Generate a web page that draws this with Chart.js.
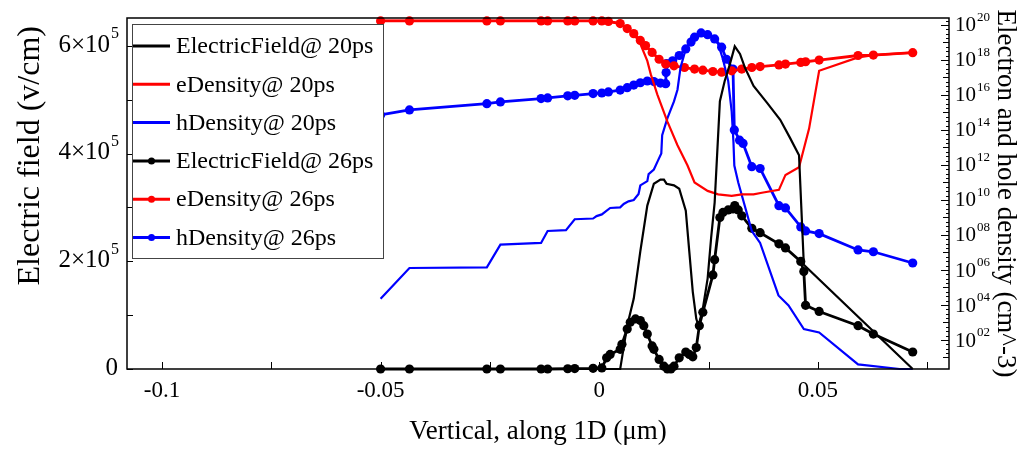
<!DOCTYPE html>
<html>
<head>
<meta charset="utf-8">
<title>Electric field and carrier density</title>
<script src="https://cdn.jsdelivr.net/npm/chart.js@4.4.1/dist/chart.umd.min.js"></script>
<style>
  html, body { margin: 0; padding: 0; background: #fff; }
  canvas { display: block; }
</style>
</head>
<body>
<canvas id="chart" width="1027" height="453"></canvas>
<script>
const SERIF = '"Liberation Serif", "Times New Roman", serif';

// Electric field (v/cm) at 20 ps and 26 ps
const ef20X = [-0.05, 0.0048, 0.0064, 0.0079, 0.0094, 0.0110, 0.0125, 0.0140, 0.0148, 0.0154, 0.0171, 0.0183, 0.0198, 0.0206, 0.0214, 0.0222, 0.0227, 0.0237, 0.0248, 0.0256, 0.0264, 0.0276, 0.0287, 0.0299, 0.0310, 0.0322, 0.0333, 0.0353, 0.0384, 0.0414, 0.0437, 0.0457, 0.0468, 0.0717];
const ef20 = [0, 0, 80500, 130900, 218600, 303500, 344200, 351900, 351900, 344200, 341100, 334800, 294100, 218600, 143300, 93100, 80500, 111900, 168400, 243900, 309100, 497400, 535100, 566500, 599300, 585300, 560200, 525800, 494400, 463000, 428400, 397000, 193500, 0];

const ef26X = [-0.0500, -0.0434, -0.0257, -0.0226, -0.0133, -0.0118, -0.0072, -0.0056, -0.0014, 0.0006, 0.0017, 0.0025, 0.0048, 0.0052, 0.0064, 0.0071, 0.0083, 0.0094, 0.0102, 0.0110, 0.0121, 0.0125, 0.0137, 0.0148, 0.0156, 0.0164, 0.0171, 0.0183, 0.0198, 0.0206, 0.0214, 0.0222, 0.0229, 0.0237, 0.0260, 0.0264, 0.0276, 0.0283, 0.0295, 0.0306, 0.0310, 0.0318, 0.0326, 0.0349, 0.0368, 0.0411, 0.0426, 0.0461, 0.0468, 0.0472, 0.0503, 0.0592, 0.0627, 0.0717];
const ef26 = [0, 0, 0, 0, 0, 0, 500, 800, 1200, 2000, 20800, 27100, 36600, 45900, 74100, 86800, 93100, 90000, 80500, 64900, 42800, 36600, 17700, 5200, 0, 200, 5200, 20800, 31600, 27100, 22700, 39800, 80500, 105600, 174700, 203000, 281400, 290900, 295400, 297200, 303500, 295400, 284600, 261300, 253200, 232500, 224900, 199800, 181000, 118200, 106900, 80500, 64900, 31600];

// electron density (cm^-3)
const eDen20X = [-0.0500, -0.0434, -0.0257, -0.0226, -0.0133, -0.0118, -0.0072, -0.0056, -0.0014, 0.0006, 0.0021, 0.0048, 0.0064, 0.0079, 0.0094, 0.0110, 0.0118, 0.0133, 0.0156, 0.0179, 0.0202, 0.0218, 0.0248, 0.0272, 0.0303, 0.0326, 0.0353, 0.0372, 0.0411, 0.0426, 0.0457, 0.0464, 0.0480, 0.0503, 0.0592, 0.0627, 0.0717];
const eDen20 = [1.7e20, 1.7e20, 1.7e20, 1.7e20, 1.7e20, 1.7e20, 1.7e20, 1.7e20, 1.7e20, 1.7e20, 1.6e20, 1.2e20, 6.2e19, 3.2e19, 8.3e18, 8.9e17, 1.5e17, 1.05e16, 3.0e14, 1.35e13, 9.3e11, 1.0e11, 3.3e10, 2.1e10, 1.7e10, 2.1e10, 2.1e10, 2.6e10, 3.8e10, 2.7e11, 7.4e11, 3.5e12, 1.2e14, 2.4e17, 1.4e18, 1.9e18, 2.6e18];

const eDen26X = [-0.0500, -0.0434, -0.0257, -0.0226, -0.0133, -0.0118, -0.0072, -0.0056, -0.0014, 0.0006, 0.0021, 0.0048, 0.0064, 0.0079, 0.0094, 0.0106, 0.0121, 0.0137, 0.0152, 0.0171, 0.0195, 0.0218, 0.0237, 0.0260, 0.0280, 0.0303, 0.0326, 0.0349, 0.0368, 0.0411, 0.0426, 0.0461, 0.0472, 0.0503, 0.0592, 0.0627, 0.0717];
const eDen26 = [1.7e20, 1.7e20, 1.7e20, 1.7e20, 1.7e20, 1.7e20, 1.7e20, 1.7e20, 1.7e20, 1.7e20, 1.6e20, 1.2e20, 6.2e19, 3.2e19, 1.3e19, 6.6e18, 2.7e18, 1.1e18, 5.8e17, 4.6e17, 3.7e17, 3.0e17, 2.6e17, 2.2e17, 2.0e17, 2.4e17, 3.0e17, 3.7e17, 4.2e17, 5.2e17, 5.8e17, 7.2e17, 7.9e17, 9.8e17, 1.8e18, 1.9e18, 2.6e18];

// hole density (cm^-3)
const hDen20X = [-0.0500, -0.0434, -0.0257, -0.0226, -0.0133, -0.0118, -0.0076, -0.0056, -0.0014, -0.0006, 0.0006, 0.0025, 0.0048, 0.0056, 0.0067, 0.0079, 0.0090, 0.0094, 0.0110, 0.0113, 0.0125, 0.0133, 0.0142, 0.0144, 0.0156, 0.0171, 0.0179, 0.0186, 0.0198, 0.0214, 0.0233, 0.0256, 0.0272, 0.0283, 0.0295, 0.0303, 0.0307, 0.0309, 0.0318, 0.0349, 0.0368, 0.0410, 0.0433, 0.0468, 0.0503, 0.0592, 0.0687, 0.0717];
const hDen20 = [2.3e4, 1.3e6, 1.4e6, 2.8e7, 3.5e7, 1.7e8, 1.9e8, 7.9e8, 8.7e8, 1.2e9, 1.5e9, 3.5e9, 3.8e9, 5.9e9, 8.3e9, 1.0e10, 2.2e10, 6.8e10, 1.2e11, 3.0e11, 5.5e11, 1.5e12, 4.6e12, 5.1e13, 4.7e14, 4.3e15, 2.0e16, 3.7e17, 4.3e18, 2.0e19, 3.9e19, 2.5e19, 8.3e18, 1.1e18, 6.3e16, 1.1e15, 2.1e13, 9.3e11, 1.0e11, 1.7e8, 3.5e7, 3.5e4, 9.5e3, 4.2e2, 2.7e2, 4, 2.2, 2.2];

const hDen26X = [-0.0500, -0.0434, -0.0257, -0.0226, -0.0133, -0.0118, -0.0072, -0.0056, -0.0014, 0.0006, 0.0021, 0.0048, 0.0064, 0.0079, 0.0094, 0.0110, 0.0125, 0.0140, 0.0152, 0.0153, 0.0154, 0.0168, 0.0183, 0.0198, 0.0210, 0.0218, 0.0233, 0.0248, 0.0264, 0.0280, 0.0291, 0.0306, 0.0309, 0.0321, 0.0329, 0.0349, 0.0368, 0.0411, 0.0426, 0.0461, 0.0472, 0.0503, 0.0592, 0.0627, 0.0717];
const hDen26 = [7.2e14, 1.4e15, 3.2e15, 4.0e15, 6.2e15, 6.8e15, 8.9e15, 9.5e15, 1.2e16, 1.3e16, 1.5e16, 1.9e16, 2.6e16, 3.7e16, 5.0e16, 6.3e16, 5.8e16, 4.8e16, 4.4e16, 1.9e17, 6.3e17, 8.9e17, 1.8e18, 4.3e18, 1.05e19, 2.0e19, 3.5e19, 2.8e19, 1.6e19, 5.4e18, 1.1e18, 3.0e17, 1.0e14, 2.6e13, 1.7e13, 8.0e11, 6.3e11, 4.7e9, 3.5e9, 2.9e8, 1.7e8, 1.2e8, 1.4e7, 1.1e7, 2.5e6];

// axes
const xTicks = [-0.1, -0.075, -0.05, -0.025, 0, 0.025, 0.05, 0.075];
const xTickLabels = ['-0.1', '', '-0.05', '', '0', '', '0.05', ''];
const efTicks = [0, 1e5, 2e5, 3e5, 4e5, 5e5, 6e5];
const efTickBase = ['0', '', '2×10', '', '4×10', '', '6×10'];
const efTickExp = ['', '', '5', '', '5', '', '5'];
const denTicks = [1e1, 1e2, 1e3, 1e4, 1e5, 1e6, 1e7, 1e8, 1e9, 1e10, 1e11, 1e12, 1e13, 1e14, 1e15, 1e16, 1e17, 1e18, 1e19, 1e20];
const denTickBase = ['', '10', '', '10', '', '10', '', '10', '', '10', '', '10', '', '10', '', '10', '', '10', '', '10'];
const denTickExp = ['', '02', '', '04', '', '06', '', '08', '', '10', '', '12', '', '14', '', '16', '', '18', '', '20'];
const denMinorSteps = [1.78, 3.16, 5.62];

function pairs(xs, ys) {
  return xs.map((x, i) => ({ x: x, y: ys[i] }));
}

function series(label, xs, ys, color, axis, marked) {
  return {
    label: label,
    data: pairs(xs, ys),
    yAxisID: axis,
    borderColor: color,
    backgroundColor: color,
    borderWidth: marked ? 2.8 : 2.2,
    pointRadius: marked ? 4.6 : 0,
    pointHoverRadius: 0,
    pointBorderWidth: 0,
    tension: 0,
    clip: 6,
    marked: marked
  };
}

// label with a raised exponent, right or left aligned at x
function powerLabel(ctx, base, exp, x, y, align, baseSize, expSize, rise) {
  ctx.font = baseSize + 'px ' + SERIF;
  const bw = ctx.measureText(base).width;
  ctx.font = expSize + 'px ' + SERIF;
  const ew = ctx.measureText(exp).width;
  const x0 = align === 'right' ? x - bw - ew : x;
  ctx.textAlign = 'left';
  ctx.font = baseSize + 'px ' + SERIF;
  ctx.fillText(base, x0, y);
  ctx.font = expSize + 'px ' + SERIF;
  ctx.fillText(exp, x0 + bw + 1, y - rise);
}

// frame, inward ticks, tick labels and boxed legend
const decor = {
  id: 'decor',
  afterDatasetsDraw(chart) {
    const { ctx, chartArea: a, scales } = chart;
    ctx.save();
    ctx.strokeStyle = '#000';
    ctx.lineWidth = 1;
    ctx.beginPath();
    xTicks.forEach(v => {
      const p = Math.round(scales.x.getPixelForValue(v)) + 0.5;
      ctx.moveTo(p, a.bottom); ctx.lineTo(p, a.bottom - 7);
    });
    efTicks.forEach(v => {
      const p = Math.round(scales.y.getPixelForValue(v)) + 0.5;
      ctx.moveTo(a.left, p); ctx.lineTo(a.left + 6, p);
    });
    denTicks.forEach((v, i) => {
      const p = Math.round(scales.y1.getPixelForValue(v)) + 0.5;
      ctx.moveTo(a.right, p); ctx.lineTo(a.right - (denTickBase[i] ? 8 : 6), p);
      denMinorSteps.forEach(m => {
        const q = scales.y1.getPixelForValue(v * m);
        if (q < a.top) return;
        ctx.moveTo(a.right, Math.round(q) + 0.5); ctx.lineTo(a.right - 3, Math.round(q) + 0.5);
      });
    });
    ctx.stroke();
    ctx.lineWidth = 1.5;
    ctx.strokeRect(a.left, a.top, a.right - a.left, a.bottom - a.top);

    // tick labels with exponents
    ctx.fillStyle = '#000';
    ctx.textBaseline = 'middle';
    efTicks.forEach((v, i) => {
      if (!efTickBase[i]) return;
      const p = scales.y.getPixelForValue(v);
      powerLabel(ctx, efTickBase[i], efTickExp[i], a.left - 9, p - 1, 'right', 25, 16, 11);
    });
    denTicks.forEach((v, i) => {
      if (!denTickBase[i]) return;
      const p = scales.y1.getPixelForValue(v);
      powerLabel(ctx, denTickBase[i], denTickExp[i], a.right + 6, p + 1, 'left', 21, 13, 8);
    });

    // legend
    const lx = a.left + 5, ly = a.top + 6, lw = 251, lh = 234, rowH = 38.3;
    ctx.fillStyle = '#fff';
    ctx.fillRect(lx, ly, lw, lh);
    ctx.lineWidth = 1;
    ctx.strokeStyle = '#444';
    ctx.strokeRect(lx + 0.5, ly + 0.5, lw, lh);
    ctx.font = '24px ' + SERIF;
    ctx.textAlign = 'left';
    chart.data.datasets.forEach((ds, i) => {
      const y = ly + 22 + i * rowH;
      ctx.strokeStyle = ds.borderColor;
      ctx.lineWidth = 3;
      ctx.beginPath();
      ctx.moveTo(lx + 1, y); ctx.lineTo(lx + 38, y);
      ctx.stroke();
      if (ds.marked) {
        ctx.fillStyle = ds.borderColor;
        ctx.beginPath();
        ctx.arc(lx + 19.5, y, 3.5, 0, Math.PI * 2);
        ctx.fill();
      }
      ctx.fillStyle = '#000';
      ctx.fillText(ds.label, lx + 44, y + 1);
    });
    ctx.restore();
  }
};

new Chart(document.getElementById('chart'), {
  type: 'line',
  data: {
    datasets: [
      series('ElectricField@ 20ps', ef20X, ef20, '#000000', 'y', false),
      series('eDensity@ 20ps', eDen20X, eDen20, '#ff0000', 'y1', false),
      series('hDensity@ 20ps', hDen20X, hDen20, '#0000ff', 'y1', false),
      series('ElectricField@ 26ps', ef26X, ef26, '#000000', 'y', true),
      series('eDensity@ 26ps', eDen26X, eDen26, '#ff0000', 'y1', true),
      series('hDensity@ 26ps', hDen26X, hDen26, '#0000ff', 'y1', true)
    ]
  },
  options: {
    responsive: false,
    animation: false,
    events: [],
    layout: { padding: { top: 18, left: 0, right: 0, bottom: 0 } },
    plugins: { legend: { display: false }, tooltip: { enabled: false } },
    scales: {
      x: {
        type: 'linear',
        min: -0.108,
        max: 0.08,
        grid: { display: false, drawTicks: false },
        border: { display: false },
        afterBuildTicks: s => { s.ticks = xTicks.map(v => ({ value: v })); },
        afterFit: s => { s.height = 84; },
        ticks: {
          autoSkip: false, maxRotation: 0, padding: 8, color: '#000',
          font: { family: SERIF, size: 23 },
          callback: (v, i) => xTickLabels[i]
        },
        title: {
          display: true, text: 'Vertical, along 1D (μm)', color: '#000',
          font: { family: SERIF, size: 27 }, padding: { top: 0, bottom: 5 }
        }
      },
      y: {
        type: 'linear',
        position: 'left',
        min: 0,
        max: 652000,
        grid: { display: false, drawTicks: false },
        border: { display: false },
        afterBuildTicks: s => { s.ticks = efTicks.map(v => ({ value: v })); },
        afterFit: s => { s.width = 127; },
        ticks: { display: false },
        title: {
          display: true, text: 'Electric field (v/cm) ', align: 'end', color: '#000',
          font: { family: SERIF, size: 32 }, padding: { top: 11, bottom: 0 }
        }
      },
      y1: {
        type: 'logarithmic',
        position: 'right',
        min: 2.2,
        max: 2.5e20,
        grid: { display: false, drawTicks: false },
        border: { display: false },
        afterBuildTicks: s => { s.ticks = denTicks.map(v => ({ value: v })); },
        afterFit: s => { s.width = 78; },
        ticks: { display: false },
        title: {
          display: true, text: 'Electron and hole density (cm^-3)', color: '#000',
          font: { family: SERIF, size: 27 }, padding: { top: 6, bottom: 0 }
        }
      }
    }
  },
  plugins: [decor]
});
</script>
</body>
</html>
